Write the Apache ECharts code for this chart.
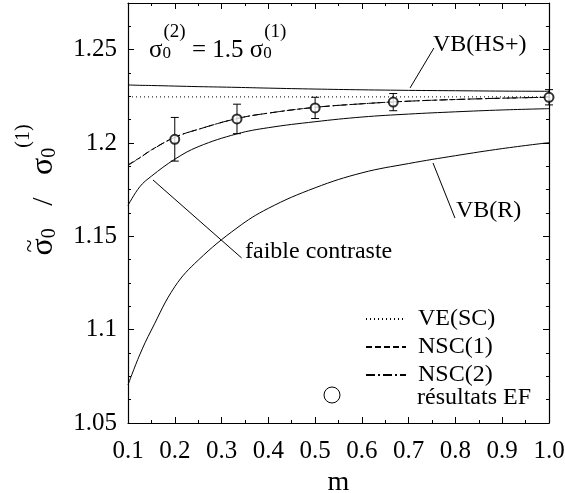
<!DOCTYPE html>
<html>
<head>
<meta charset="utf-8">
<script src="https://cdn.jsdelivr.net/npm/echarts@6/dist/echarts.min.js"></script>
<style>
  html, body { margin: 0; padding: 0; background: #fff; }
  #chart { width: 565px; height: 493px; }
</style>
</head>
<body>
<div id="chart"></div>
<script>
// m values where the curves were read
const mVals  = [0.1, 0.125, 0.15, 0.2, 0.25, 0.333, 0.4, 0.5, 0.6, 0.7, 0.8, 0.9, 1.0];
const vbHS   = [1.2311, 1.2309, 1.2308, 1.2305, 1.2302, 1.2298, 1.2294, 1.2289, 1.2285, 1.2282, 1.2280, 1.2278, 1.2277];
const veSC   = [1.2247, 1.2247];
const veSCm  = [0.1, 1.0];
const nsc1   = [1.1883, 1.1921, 1.1963, 1.2031, 1.2073, 1.2131, 1.2160, 1.2191, 1.2210, 1.2224, 1.2233, 1.2240, 1.2245];
const nsc2   = [1.1880, 1.1920, 1.1962, 1.2030, 1.2073, 1.2131, 1.2160, 1.2191, 1.2210, 1.2224, 1.2233, 1.2240, 1.2245];
const faible = [1.1665, 1.1765, 1.1822, 1.1913, 1.1980, 1.2049, 1.2082, 1.2114, 1.2139, 1.2155, 1.2167, 1.2177, 1.2184];
const vbR    = [1.0704, 1.0865, 1.0998, 1.1230, 1.1372, 1.1545, 1.1650, 1.1760, 1.1840, 1.1890, 1.1932, 1.1970, 1.2002];

// finite element results + error bars
const efM   = [0.2, 0.333, 0.5, 0.667, 1.0];
const efVal = [1.2020, 1.2129, 1.2188, 1.2219, 1.2245];
const efErr = [0.0117, 0.0079, 0.0057, 0.0046, 0.0041];

// annotation arrows (data coords) : from label -> to curve
const arrowFrom = [[0.754, 1.2509], [0.799, 1.1598], [0.343, 1.1384]];
const arrowTo   = [[0.703, 1.2295], [0.752, 1.1893], [0.1534, 1.1802]];

const FONT = '"Liberation Serif", "DejaVu Serif", serif';

function pairs(xs, ys) {
  return xs.map((x, i) => [x, ys[i]]);
}

let chart = echarts.init(document.getElementById('chart'));

let axisCommon = {
  type: 'value',
  axisLine: { show: true, lineStyle: { color: '#000', width: 1.2 } },
  axisTick: { show: true, inside: true, length: 6, lineStyle: { color: '#000' } },
  splitLine: { show: false },
  minorSplitLine: { show: false }
};

let lineBase = {
  type: 'line',
  xAxisIndex: 0,
  yAxisIndex: 0,
  symbol: 'none',
  showSymbol: false,
  smooth: 0.4,
  silent: true,
  itemStyle: { color: '#000' },
  z: 3
};

chart.setOption({
  animation: false,
  backgroundColor: '#fff',
  grid: { left: 128, right: 16, top: 3, bottom: 70, outerBoundsMode: 'none' },
  xAxis: [
    Object.assign({}, axisCommon, {
      position: 'bottom',
      min: 0.1, max: 1.0, interval: 0.1,
      minorTick: { show: true, splitNumber: 2, length: 3, lineStyle: { color: '#000' } },
      axisLabel: {
        color: '#000', fontFamily: FONT, fontSize: 25, margin: 16,
        formatter: v => v.toFixed(1)
      },
      name: 'm',
      nameLocation: 'middle',
      nameGap: 38,
      nameTextStyle: { color: '#000', fontFamily: FONT, fontSize: 28 }
    }),
    Object.assign({}, axisCommon, {
      position: 'top',
      min: 0.1, max: 1.0, interval: 0.1,
      minorTick: { show: true, splitNumber: 2, length: 3, lineStyle: { color: '#000' } },
      axisLabel: { show: false }
    })
  ],
  yAxis: [
    Object.assign({}, axisCommon, {
      position: 'left',
      min: 1.05, max: 1.275, interval: 0.05,
      minorTick: { show: true, splitNumber: 4, length: 3, lineStyle: { color: '#000' } },
      axisLabel: {
        color: '#000', fontFamily: FONT, fontSize: 25, margin: 11,
        showMaxLabel: false
      }
    }),
    Object.assign({}, axisCommon, {
      position: 'right',
      min: 1.05, max: 1.275, interval: 0.05,
      minorTick: { show: true, splitNumber: 4, length: 3, lineStyle: { color: '#000' } },
      axisLabel: { show: false }
    })
  ],
  legend: {
    data: ['VE(SC)', 'NSC(1)', 'NSC(2)'],
    orient: 'vertical',
    left: 360,
    top: 302,
    itemWidth: 40,
    itemHeight: 14,
    itemGap: 4,
    selectedMode: false,
    itemStyle: { opacity: 0 },
    textStyle: { color: '#000', fontFamily: FONT, fontSize: 24, padding: [0, 0, 0, 7] }
  },
  series: [
    Object.assign({}, lineBase, {
      name: 'VB(HS+)',
      data: pairs(mVals, vbHS),
      lineStyle: { color: '#000', width: 1 }
    }),
    Object.assign({}, lineBase, {
      name: 'VE(SC)',
      data: pairs(veSCm, veSC),
      smooth: false,
      lineStyle: { color: '#000', width: 1, type: [1, 3] }
    }),
    Object.assign({}, lineBase, {
      name: 'NSC(1)',
      data: pairs(mVals, nsc1),
      lineStyle: { color: '#000', width: 1, type: [6, 3] }
    }),
    Object.assign({}, lineBase, {
      name: 'NSC(2)',
      data: pairs(mVals, nsc2),
      lineStyle: { color: '#000', width: 1, type: [9, 3, 2, 3] }
    }),
    Object.assign({}, lineBase, {
      name: 'faible contraste',
      data: pairs(mVals, faible),
      lineStyle: { color: '#000', width: 1 }
    }),
    Object.assign({}, lineBase, {
      name: 'VB(R)',
      data: pairs(mVals, vbR),
      lineStyle: { color: '#000', width: 1 },
      markLine: {
        silent: true,
        symbol: ['none', 'arrow'],
        symbolSize: [0, 8],
        label: { show: false },
        lineStyle: { color: '#000', width: 1, type: 'solid' },
        data: arrowFrom.map((p, i) => [{ coord: p }, { coord: arrowTo[i] }])
      }
    }),
    {
      name: 'erreurs',
      type: 'custom',
      xAxisIndex: 0,
      yAxisIndex: 0,
      silent: true,
      z: 4,
      data: efM.map((m, i) => [m, efVal[i] - efErr[i], efVal[i] + efErr[i]]),
      encode: { x: 0, y: [1, 2] },
      renderItem: function (params, api) {
        let lo = api.coord([api.value(0), api.value(1)]);
        let hi = api.coord([api.value(0), api.value(2)]);
        let w = 4;
        let st = { stroke: '#000', lineWidth: 1 };
        return {
          type: 'group',
          children: [
            { type: 'line', shape: { x1: lo[0], y1: lo[1], x2: hi[0], y2: hi[1] }, style: st },
            { type: 'line', shape: { x1: lo[0] - w, y1: lo[1], x2: lo[0] + w, y2: lo[1] }, style: st },
            { type: 'line', shape: { x1: hi[0] - w, y1: hi[1], x2: hi[0] + w, y2: hi[1] }, style: st }
          ]
        };
      }
    },
    {
      name: 'résultats EF',
      type: 'scatter',
      xAxisIndex: 0,
      yAxisIndex: 0,
      symbol: 'emptyCircle',
      symbolSize: 9,
      silent: true,
      z: 5,
      itemStyle: { color: '#000', borderWidth: 1 },
      data: pairs(efM, efVal)
    }
  ],
  graphic: [
    {
      type: 'text', x: 149, y: 50, z: 10, silent: true,
      style: {
        text: '{s|σ}{b|0}{p|(2)}{n| = 1.5 }{s|σ}{b|0}{p|(1)}',
        verticalAlign: 'middle',
        rich: {
          s: { fontFamily: FONT, fontSize: 25, fill: '#000' },
          n: { fontFamily: FONT, fontSize: 25, fill: '#000' },
          b: { fontFamily: FONT, fontSize: 17, fill: '#000', width: 1, padding: [8, 0, 0, 0] },
          p: { fontFamily: FONT, fontSize: 19, fill: '#000', padding: [0, 0, 36, 0] }
        }
      }
    },
    {
      type: 'text', x: 433, y: 45, z: 10, silent: true,
      style: { text: 'VB(HS+)', fontFamily: FONT, fontSize: 24, fill: '#000', verticalAlign: 'middle' }
    },
    {
      type: 'text', x: 456, y: 211, z: 10, silent: true,
      style: { text: 'VB(R)', fontFamily: FONT, fontSize: 24, fill: '#000', verticalAlign: 'middle' }
    },
    {
      type: 'text', x: 245, y: 252, z: 10, silent: true,
      style: { text: 'faible contraste', fontFamily: FONT, fontSize: 24, fill: '#000', verticalAlign: 'middle' }
    },
    // legend entry for the FE results
    {
      type: 'circle', z: 10, silent: true,
      shape: { cx: 332, cy: 395, r: 8 },
      style: { fill: '#fff', stroke: '#000', lineWidth: 1 }
    },
    {
      type: 'text', x: 417, y: 398, z: 10, silent: true,
      style: { text: 'résultats EF', fontFamily: FONT, fontSize: 24, fill: '#000', verticalAlign: 'middle' }
    },
    // y axis title
    {
      type: 'text', x: 44, y: 190, rotation: Math.PI / 2, z: 10, silent: true,
      style: {
        text: '{s|σ}{b|0}{n|   /   }{s|σ}{b|0}{p|(1)}',
        align: 'center',
        verticalAlign: 'middle',
        rich: {
          s: { fontFamily: FONT, fontSize: 32, fill: '#000' },
          n: { fontFamily: FONT, fontSize: 30, fill: '#000' },
          b: { fontFamily: FONT, fontSize: 20, fill: '#000', padding: [11, 0, 0, 0] },
          p: { fontFamily: FONT, fontSize: 20, fill: '#000', padding: [0, 0, 40, 0] }
        }
      }
    },
    {
      type: 'text', x: 31, y: 246, rotation: Math.PI / 2, z: 10, silent: true,
      style: { text: '~', fontFamily: FONT, fontSize: 24, fill: '#000', align: 'center', verticalAlign: 'middle' }
    }
  ]
});
</script>
</body>
</html>
